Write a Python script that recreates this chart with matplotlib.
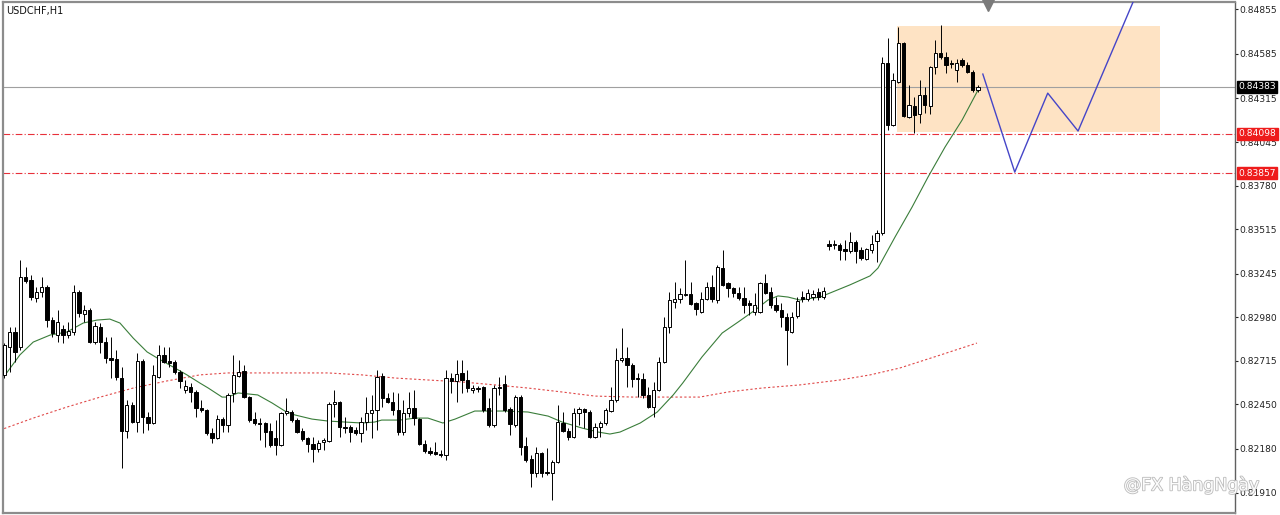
import matplotlib
matplotlib.use("Agg")
import matplotlib.pyplot as plt
import matplotlib.patheffects as pe
from matplotlib.patches import Rectangle
from matplotlib.transforms import blended_transform_factory
import numpy as np

symbol = "USDCHF,H1"

# hourly candles
opens = [0.82629, 0.82798, 0.82890, 0.82798, 0.83225, 0.83207, 0.83097, 0.83134, 0.83164, 0.82963,
         0.82872, 0.82908, 0.82872, 0.82890, 0.83134, 0.83000, 0.83024, 0.82829, 0.82920, 0.82829,
         0.82732, 0.82726, 0.82610, 0.82287, 0.82446, 0.82342, 0.82714, 0.82372, 0.82336, 0.82616,
         0.82751, 0.82714, 0.82708, 0.82647, 0.82537, 0.82555, 0.82525, 0.82427, 0.82415, 0.82275,
         0.82244, 0.82360, 0.82324, 0.82519, 0.82622, 0.82653, 0.82494, 0.82360, 0.82336, 0.82336,
         0.82287, 0.82244, 0.82202, 0.82397, 0.82403, 0.82354, 0.82287, 0.82244, 0.82208, 0.82177,
         0.82220, 0.82226, 0.82452, 0.82464, 0.82311, 0.82311, 0.82293, 0.82275, 0.82342, 0.82397,
         0.82415, 0.82622, 0.82488, 0.82464, 0.82415, 0.82281, 0.82397, 0.82427, 0.82360, 0.82208,
         0.82166, 0.82160, 0.82148, 0.82142, 0.82610, 0.82592, 0.82641, 0.82598, 0.82537, 0.82543,
         0.82555, 0.82427, 0.82324, 0.82555, 0.82574, 0.82421, 0.82324, 0.82494, 0.82195, 0.82117,
         0.82032, 0.82154, 0.82038, 0.82032, 0.82099, 0.82336, 0.82287, 0.82250, 0.82397, 0.82421,
         0.82403, 0.82250, 0.82311, 0.82336, 0.82409, 0.82476, 0.82720, 0.82732, 0.82690, 0.82610,
         0.82604, 0.82507, 0.82433, 0.82537, 0.82708, 0.82920, 0.83073, 0.83091, 0.83116, 0.83122,
         0.83067, 0.83012, 0.83091, 0.83164, 0.83085, 0.83280, 0.83189, 0.83158, 0.83128, 0.83097,
         0.83067, 0.83012, 0.83012, 0.83189, 0.83134, 0.83055, 0.83024, 0.82981, 0.82890, 0.82987,
         0.83103, 0.83091, 0.83103, 0.83134, 0.83103, 0.83426, 0.83420, 0.83420, 0.83395, 0.83384,
         0.83438, 0.83390, 0.83335, 0.83390, 0.83444, 0.83493, 0.84528, 0.84151, 0.84413, 0.84650,
         0.84200, 0.84267, 0.84218, 0.84333, 0.84267, 0.84504, 0.84589, 0.84565, 0.84528, 0.84486,
         0.84547, 0.84516, 0.84474, 0.84364]
highs = [0.82823, 0.82920, 0.82920, 0.83329, 0.83286, 0.83238, 0.83164, 0.83225, 0.83177, 0.82981,
         0.83024, 0.82933, 0.82951, 0.83177, 0.83146, 0.83055, 0.83036, 0.82951, 0.82945, 0.82859,
         0.82859, 0.82781, 0.82677, 0.82476, 0.82464, 0.82763, 0.82726, 0.82403, 0.82690, 0.82811,
         0.82798, 0.82798, 0.82720, 0.82659, 0.82598, 0.82580, 0.82537, 0.82476, 0.82421, 0.82305,
         0.82385, 0.82372, 0.82519, 0.82751, 0.82720, 0.82690, 0.82500, 0.82403, 0.82366, 0.82342,
         0.82336, 0.82354, 0.82403, 0.82488, 0.82415, 0.82366, 0.82305, 0.82250, 0.82250, 0.82232,
         0.82244, 0.82464, 0.82537, 0.82470, 0.82372, 0.82324, 0.82311, 0.82372, 0.82494, 0.82507,
         0.82659, 0.82641, 0.82519, 0.82525, 0.82519, 0.82476, 0.82525, 0.82537, 0.82366, 0.82232,
         0.82189, 0.82220, 0.82172, 0.82659, 0.82641, 0.82720, 0.82720, 0.82659, 0.82568, 0.82561,
         0.82561, 0.82488, 0.82568, 0.82616, 0.82629, 0.82433, 0.82507, 0.82507, 0.82250, 0.82142,
         0.82189, 0.82160, 0.82183, 0.82111, 0.82446, 0.82403, 0.82305, 0.82427, 0.82433, 0.82427,
         0.82415, 0.82336, 0.82348, 0.82427, 0.82555, 0.82793, 0.82914, 0.82798, 0.82702, 0.82641,
         0.82641, 0.82555, 0.82586, 0.82738, 0.82981, 0.83134, 0.83195, 0.83158, 0.83329, 0.83195,
         0.83073, 0.83134, 0.83195, 0.83238, 0.83298, 0.83390, 0.83195, 0.83164, 0.83164, 0.83164,
         0.83085, 0.83128, 0.83195, 0.83244, 0.83164, 0.83103, 0.83067, 0.83006, 0.83012, 0.83103,
         0.83140, 0.83152, 0.83146, 0.83158, 0.83164, 0.83450, 0.83450, 0.83432, 0.83450, 0.83499,
         0.83450, 0.83407, 0.83401, 0.83481, 0.83511, 0.84565, 0.84681, 0.84467, 0.84748, 0.84656,
         0.84394, 0.84321, 0.84425, 0.84382, 0.84510, 0.84668, 0.84760, 0.84595, 0.84547, 0.84553,
         0.84559, 0.84534, 0.84486, 0.84394]
lows = [0.82610, 0.82647, 0.82708, 0.82781, 0.83189, 0.83085, 0.83073, 0.83103, 0.82920, 0.82859,
        0.82829, 0.82823, 0.82853, 0.82872, 0.82981, 0.82951, 0.82823, 0.82817, 0.82763, 0.82702,
        0.82610, 0.82598, 0.82062, 0.82244, 0.82336, 0.82281, 0.82275, 0.82293, 0.82330, 0.82610,
        0.82702, 0.82677, 0.82635, 0.82549, 0.82519, 0.82464, 0.82372, 0.82403, 0.82263, 0.82214,
        0.82238, 0.82281, 0.82281, 0.82464, 0.82616, 0.82488, 0.82342, 0.82324, 0.82232, 0.82189,
        0.82189, 0.82142, 0.82195, 0.82385, 0.82342, 0.82275, 0.82226, 0.82160, 0.82099, 0.82160,
        0.82172, 0.82220, 0.82372, 0.82250, 0.82275, 0.82220, 0.82263, 0.82220, 0.82293, 0.82244,
        0.82293, 0.82433, 0.82458, 0.82385, 0.82263, 0.82263, 0.82372, 0.82324, 0.82202, 0.82154,
        0.82142, 0.82142, 0.82129, 0.82111, 0.82519, 0.82464, 0.82519, 0.82525, 0.82519, 0.82525,
        0.82403, 0.82311, 0.82311, 0.82507, 0.82403, 0.82263, 0.82311, 0.82142, 0.82099, 0.81946,
        0.82007, 0.82007, 0.82020, 0.81867, 0.82093, 0.82281, 0.82232, 0.82244, 0.82324, 0.82305,
        0.82244, 0.82244, 0.82250, 0.82324, 0.82403, 0.82464, 0.82708, 0.82555, 0.82555, 0.82494,
        0.82488, 0.82427, 0.82372, 0.82531, 0.82702, 0.82884, 0.83036, 0.83067, 0.83110, 0.83055,
        0.82994, 0.83006, 0.83085, 0.83073, 0.83067, 0.83171, 0.83103, 0.83103, 0.83085, 0.83006,
        0.82994, 0.82994, 0.83006, 0.83122, 0.83036, 0.83012, 0.82920, 0.82690, 0.82884, 0.82975,
        0.83073, 0.83079, 0.83085, 0.83085, 0.83091, 0.83390, 0.83395, 0.83329, 0.83329, 0.83372,
        0.83311, 0.83329, 0.83329, 0.83372, 0.83317, 0.83481, 0.84120, 0.84145, 0.84407, 0.84200,
        0.84193, 0.84102, 0.84163, 0.84224, 0.84218, 0.84461, 0.84553, 0.84467, 0.84498, 0.84413,
        0.84504, 0.84467, 0.84352, 0.84352]
closes = [0.82811, 0.82890, 0.82769, 0.83225, 0.83201, 0.83103, 0.83134, 0.83164, 0.82963, 0.82884,
          0.82951, 0.82872, 0.82896, 0.83134, 0.83006, 0.83024, 0.82829, 0.82926, 0.82829, 0.82732,
          0.82720, 0.82616, 0.82287, 0.82446, 0.82342, 0.82714, 0.82372, 0.82336, 0.82629, 0.82751,
          0.82708, 0.82702, 0.82647, 0.82592, 0.82561, 0.82525, 0.82427, 0.82415, 0.82275, 0.82244,
          0.82360, 0.82324, 0.82507, 0.82629, 0.82647, 0.82494, 0.82354, 0.82336, 0.82330, 0.82281,
          0.82202, 0.82202, 0.82397, 0.82409, 0.82354, 0.82281, 0.82238, 0.82208, 0.82177, 0.82214,
          0.82232, 0.82452, 0.82464, 0.82311, 0.82305, 0.82281, 0.82275, 0.82342, 0.82397, 0.82415,
          0.82616, 0.82488, 0.82464, 0.82415, 0.82281, 0.82397, 0.82427, 0.82366, 0.82208, 0.82166,
          0.82154, 0.82148, 0.82142, 0.82610, 0.82592, 0.82635, 0.82598, 0.82549, 0.82549, 0.82549,
          0.82415, 0.82324, 0.82549, 0.82549, 0.82415, 0.82330, 0.82494, 0.82189, 0.82111, 0.82032,
          0.82154, 0.82032, 0.82032, 0.82099, 0.82342, 0.82287, 0.82250, 0.82397, 0.82421, 0.82403,
          0.82250, 0.82311, 0.82336, 0.82415, 0.82476, 0.82720, 0.82732, 0.82690, 0.82604, 0.82604,
          0.82507, 0.82433, 0.82537, 0.82708, 0.82920, 0.83085, 0.83091, 0.83122, 0.83122, 0.83061,
          0.83030, 0.83091, 0.83164, 0.83091, 0.83286, 0.83177, 0.83158, 0.83128, 0.83097, 0.83055,
          0.83055, 0.83055, 0.83189, 0.83128, 0.83055, 0.83024, 0.82981, 0.82902, 0.82981, 0.83079,
          0.83091, 0.83128, 0.83122, 0.83103, 0.83140, 0.83413, 0.83426, 0.83390, 0.83384, 0.83438,
          0.83384, 0.83341, 0.83395, 0.83426, 0.83493, 0.84528, 0.84151, 0.84425, 0.84650, 0.84206,
          0.84273, 0.84212, 0.84333, 0.84273, 0.84504, 0.84589, 0.84565, 0.84516, 0.84522, 0.84528,
          0.84516, 0.84474, 0.84364, 0.84383]

# green moving average (bar index, price)
fast_ma_bar = [-0.3, 2.9, 5.4, 8.6, 11.7, 14.8, 17.4, 19.8, 21.7, 24.2, 26.8, 28.7, 31.7, 34.3,
               36.7, 38.3, 40.9, 42.0, 43.9, 45.8, 47.6, 50.3, 52.7, 54.6, 57.8, 60.8, 64.0, 67.2,
               69.6, 70.9, 74.3, 77.2, 79.6, 82.4, 84.7, 88.4, 90.9, 94.1, 98.4, 102.2, 104.8,
               108.6, 111.6, 113.8, 115.7, 119.5, 122.7, 125.7, 127.5, 131.1, 134.9, 137.9, 141.1,
               143.5, 145.4, 147.3, 149.5, 153.3, 158.9, 162.7, 164.2, 167.4, 170.6, 173.6, 176.8,
               180.0, 183.0]
fast_ma = [0.82610, 0.82751, 0.82829, 0.82872, 0.82890, 0.82945, 0.82963, 0.82969, 0.82945, 0.82853,
           0.82769, 0.82732, 0.82677, 0.82629, 0.82580, 0.82549, 0.82494, 0.82494, 0.82519, 0.82513,
           0.82507, 0.82458, 0.82409, 0.82385, 0.82360, 0.82348, 0.82342, 0.82336, 0.82342, 0.82354,
           0.82354, 0.82366, 0.82366, 0.82336, 0.82360, 0.82409, 0.82409, 0.82409, 0.82403, 0.82378,
           0.82342, 0.82305, 0.82281, 0.82269, 0.82281, 0.82336, 0.82403, 0.82507, 0.82580, 0.82738,
           0.82884, 0.82951, 0.83024, 0.83085, 0.83110, 0.83103, 0.83085, 0.83103, 0.83177, 0.83232,
           0.83280, 0.83469, 0.83651, 0.83834, 0.84017, 0.84181, 0.84364]

# red dotted moving average (bar index, price)
slow_ma_bar = [-0.85, 5.4, 11.7, 18.0, 24.2, 30.5, 36.7, 42.0, 48.4, 54.6, 60.8, 67.2, 73.4, 79.6,
               86.0, 92.2, 98.4, 104.8, 111.0, 118.1, 124.5, 130.7, 136.0, 142.4, 149.5, 157.0,
               162.7, 168.3, 175.9, 182.8]
slow_ma = [0.82293, 0.82366, 0.82433, 0.82494, 0.82549, 0.82592, 0.82629, 0.82641, 0.82641, 0.82641,
           0.82641, 0.82629, 0.82610, 0.82598, 0.82586, 0.82568, 0.82549, 0.82525, 0.82500, 0.82494,
           0.82494, 0.82494, 0.82525, 0.82549, 0.82568, 0.82598, 0.82629, 0.82671, 0.82750, 0.82823]

price_ticks = [0.84855, 0.84585, 0.84315, 0.84045, 0.83780, 0.83515,
               0.83245, 0.82980, 0.82715, 0.82450, 0.82180, 0.81910]
bid = 0.84383
levels = [0.84098, 0.83857]

zone_bars = (167.8, 217.2)
zone_prices = (0.84108, 0.84753)
path_bars = [183.9, 189.9, 196.1, 201.8, 212.3]
path_prices = [0.84461, 0.83864, 0.84345, 0.84114, 0.84912]
shift_bar = 184.9

fig = plt.figure(figsize=(12.8, 5.15), dpi=100)
fig.patch.set_facecolor("white")
ax = fig.add_axes([3 / 1280, 2 / 515, 1232 / 1280, 511 / 515])
ax.set_xlim(-0.28, 231.3)
ax.set_ylim(0.81788, 0.84900)

# rectangle zone
ax.add_patch(Rectangle((zone_bars[0], zone_prices[0]), zone_bars[1] - zone_bars[0],
                       zone_prices[1] - zone_prices[0], facecolor="#FEE3C4",
                       edgecolor="none", zorder=0))

ax.axhline(bid, color="#a0a0a0", lw=0.8, zorder=1)
for lv in levels:
    ax.axhline(lv, color="#e8303a", lw=0.8, ls=(0, (6, 2, 1, 2)), zorder=1)

ax.plot(slow_ma_bar, slow_ma, color="#e04848", lw=0.8, ls=(0, (2, 2)), zorder=2)
ax.plot(fast_ma_bar, fast_ma, color="#3a7d3a", lw=0.8, zorder=2)

# candles
x = np.arange(len(opens))
o = np.array(opens)
c = np.array(closes)
up = c >= o
body_lo = np.minimum(o, c)
body_h = np.maximum(np.abs(c - o), 0.00002)
ax.vlines(x, lows, highs, color="black", lw=0.7, zorder=3)
ax.bar(x[up], body_h[up], 0.62, body_lo[up], facecolor="white", edgecolor="black",
       lw=0.7, zorder=4)
ax.bar(x[~up], body_h[~up], 0.62, body_lo[~up], facecolor="black", edgecolor="black",
       lw=0.7, zorder=4)

# drawn forecast path
ax.plot(path_bars, path_prices, color="#4545c8", lw=1.0, zorder=5)

# chart shift marker
ax.plot([shift_bar], [0.995], marker="v", ms=8, color="#7a7a7a", mec="#7a7a7a",
        transform=blended_transform_factory(ax.transData, ax.transAxes), clip_on=False, zorder=6)

# axes
ax.yaxis.tick_right()
ax.set_yticks(price_ticks)
ax.set_yticklabels([f"{v:.5f}" for v in price_ticks])
ax.tick_params(axis="y", direction="out", length=2, width=0.8, pad=1, labelsize=6.6,
               colors="#222222")
ax.set_xticks([])
for side in ["left", "top", "bottom"]:
    ax.spines[side].set_color("#8c8c8c")
    ax.spines[side].set_linewidth(1.6)
ax.spines["right"].set_color("#606060")
ax.spines["right"].set_linewidth(1.0)

tr = blended_transform_factory(ax.transAxes, ax.transData)
ax.text(1.0028, bid, f"{bid:.5f}", transform=tr, ha="left", va="center", fontsize=6.6,
        color="white", bbox=dict(boxstyle="square,pad=0.15", fc="black", ec="black"), zorder=10)
for lv in levels:
    ax.text(1.0028, lv, f"{lv:.5f}", transform=tr, ha="left", va="center", fontsize=6.6,
            color="white", bbox=dict(boxstyle="square,pad=0.15", fc="#ee1c1c", ec="#ee1c1c"),
            zorder=10)

ax.text(0.0025, 0.993, symbol, transform=ax.transAxes, ha="left", va="top", fontsize=7,
        color="#111111")

# watermark
fig.text(0.878, 0.058, "@FX HàngNgày", ha="left", va="center", fontsize=12.5,
         color="white", alpha=0.95, zorder=20,
         path_effects=[pe.withStroke(linewidth=1.2, foreground="#b8b8b8")])

fig.savefig("out.png", dpi=100)
